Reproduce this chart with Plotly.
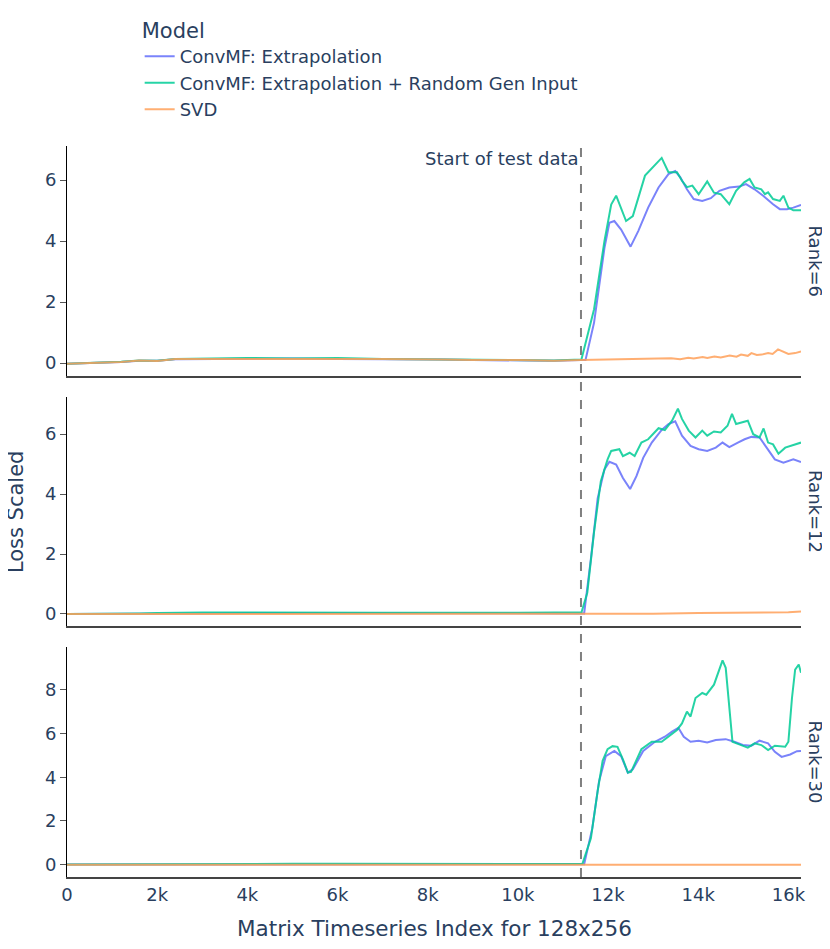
import plotly.graph_objects as go

# training-region sample positions (shared by all panels)
x_train = [0, 600, 1200, 1600, 2000, 2400, 3000, 4000, 5000, 6000, 7000, 8300, 9000, 10000, 10800, 11400]

# ---- Rank=6 ----
r6_blue_train = [-0.02, 0.0, 0.04, 0.08, 0.08, 0.13, 0.14, 0.15, 0.15, 0.14, 0.14, 0.12, 0.1, 0.09, 0.08, 0.1]
r6_green_train = [-0.02, 0.01, 0.05, 0.09, 0.08, 0.14, 0.15, 0.17, 0.15, 0.17, 0.14, 0.12, 0.12, 0.1, 0.09, 0.12]
r6_svd_train = [-0.02, 0.0, 0.04, 0.09, 0.07, 0.14, 0.14, 0.15, 0.14, 0.14, 0.14, 0.12, 0.1, 0.1, 0.08, 0.1]

r6_blue_x = [11500, 11690, 11920, 12030, 12140, 12290, 12500, 12670, 12890, 13120, 13340, 13490, 13600,
             13750, 13900, 14090, 14280, 14470, 14690, 14910, 15060, 15250, 15440, 15660, 15810, 15970, 16110, 16280]
r6_blue_y = [0.1, 1.33, 3.77, 4.6, 4.66, 4.38, 3.82, 4.33, 5.1, 5.76, 6.2, 6.3, 6.1,
             5.7, 5.38, 5.32, 5.41, 5.65, 5.76, 5.79, 5.87, 5.7, 5.49, 5.21, 5.05, 5.05, 5.1, 5.19]

r6_green_x = [11410, 11690, 11920, 12070, 12180, 12400, 12550, 12820, 13000, 13190, 13340, 13530, 13640,
              13750, 13870, 14010, 14200, 14350, 14500, 14690, 14840, 15020, 15140, 15250, 15400, 15480,
              15550, 15660, 15810, 15890, 16000, 16110, 16280]
r6_green_y = [0.12, 1.77, 4.0, 5.2, 5.49, 4.66, 4.82, 6.15, 6.43, 6.73, 6.26, 6.26, 5.98,
              5.77, 5.82, 5.54, 5.96, 5.59, 5.54, 5.21, 5.65, 5.93, 6.04, 5.76, 5.7, 5.54,
              5.6, 5.38, 5.32, 5.49, 5.1, 5.01, 5.01]

r6_svd_x = [11800, 12000, 12500, 13000, 13200, 13400, 13600, 13780, 13900, 14100, 14200, 14360, 14500,
            14700, 14850, 14950, 15100, 15180, 15300, 15410, 15550, 15650, 15770, 15880, 16000, 16150, 16280]
r6_svd_y = [0.11, 0.13, 0.12, 0.14, 0.14, 0.16, 0.13, 0.18, 0.15, 0.2, 0.17, 0.22, 0.19,
            0.25, 0.21, 0.28, 0.24, 0.33, 0.27, 0.28, 0.33, 0.3, 0.45, 0.38, 0.3, 0.33, 0.38]

# ---- Rank=12 ----
r12_blue_train = [0.0, 0.0, 0.0, 0.01, 0.02, 0.02, 0.02, 0.03, 0.03, 0.03, 0.03, 0.02, 0.02, 0.02, 0.02, 0.02]
r12_green_train = [0.0, 0.0, 0.01, 0.02, 0.03, 0.04, 0.05, 0.05, 0.04, 0.05, 0.04, 0.04, 0.05, 0.04, 0.05, 0.05]
r12_svd_train = [0.0, 0.0, 0.0, 0.0, 0.0, 0.0, 0.0, 0.01, 0.01, 0.01, 0.01, 0.01, 0.0, 0.0, 0.0, 0.0]

r12_blue_x = [11470, 11620, 11770, 11920, 12030, 12180, 12330, 12490, 12630, 12780, 12970, 13190, 13340,
              13490, 13640, 13830, 14010, 14200, 14390, 14540, 14690, 14880, 15030, 15180, 15360, 15510,
              15700, 15890, 16110, 16280]
r12_blue_y = [0.02, 1.84, 3.86, 4.82, 5.08, 4.99, 4.54, 4.17, 4.6, 5.21, 5.72, 6.14, 6.34,
              6.43, 5.95, 5.61, 5.5, 5.44, 5.55, 5.72, 5.57, 5.72, 5.83, 5.91, 5.89, 5.57,
              5.16, 5.05, 5.16, 5.07]

r12_green_x = [11410, 11540, 11690, 11840, 11990, 12070, 12250, 12330, 12480, 12590, 12740, 12890, 13120,
               13260, 13420, 13550, 13640, 13790, 13940, 14090, 14200, 14350, 14500, 14650, 14750, 14840,
               14990, 15100, 15220, 15360, 15450, 15550, 15660, 15780, 15930, 16110, 16280]
r12_green_y = [0.05, 0.71, 2.74, 4.43, 5.16, 5.44, 5.5, 5.27, 5.38, 5.27, 5.72, 5.83, 6.2,
               6.14, 6.45, 6.85, 6.51, 6.12, 5.89, 6.12, 5.95, 6.09, 6.06, 6.28, 6.68, 6.34,
               6.4, 6.45, 6.0, 5.89, 6.19, 5.72, 5.66, 5.35, 5.55, 5.64, 5.72]

r12_svd_x = [12000, 13000, 14000, 15000, 16000, 16280]
r12_svd_y = [0.0, 0.01, 0.03, 0.04, 0.06, 0.08]

# ---- Rank=30 ----
r30_blue_train = [0.01, 0.01, 0.01, 0.01, 0.02, 0.02, 0.02, 0.02, 0.02, 0.02, 0.02, 0.02, 0.02, 0.02, 0.02, 0.02]
r30_green_train = [0.01, 0.01, 0.02, 0.02, 0.03, 0.03, 0.04, 0.03, 0.04, 0.05, 0.04, 0.05, 0.03, 0.04, 0.03, 0.03]
r30_svd_train = [0.0, 0.0, 0.0, 0.0, 0.0, 0.0, 0.0, 0.0, 0.0, 0.0, 0.0, 0.0, 0.0, 0.0, 0.0, 0.0]

r30_blue_x = [11470, 11650, 11800, 11950, 12140, 12290, 12440, 12550, 12780, 13040, 13260, 13420, 13560,
              13680, 13830, 14010, 14200, 14390, 14610, 14800, 14990, 15180, 15360, 15550, 15700, 15850,
              16040, 16190, 16280]
r30_blue_y = [0.02, 1.66, 3.81, 4.96, 5.2, 4.96, 4.21, 4.36, 5.2, 5.62, 5.85, 6.08, 6.26,
              5.85, 5.62, 5.67, 5.59, 5.7, 5.74, 5.62, 5.47, 5.44, 5.67, 5.55, 5.16, 4.93,
              5.04, 5.19, 5.2]

r30_green_x = [11430, 11620, 11770, 11880, 11990, 12100, 12210, 12330, 12440, 12510, 12740, 12970, 13190,
               13340, 13530, 13640, 13750, 13830, 13940, 14090, 14180, 14350, 14470, 14540, 14610, 14690,
               14760, 14910, 15100, 15250, 15400, 15550, 15700, 15930, 16000, 16080, 16150, 16230, 16280]
r30_green_y = [0.03, 1.21, 3.36, 4.75, 5.28, 5.42, 5.39, 4.82, 4.21, 4.24, 5.28, 5.62, 5.62,
               5.85, 6.16, 6.46, 7.0, 6.77, 7.62, 7.85, 7.77, 8.23, 9.0, 9.34, 9.0, 7.15,
               5.62, 5.5, 5.35, 5.55, 5.47, 5.24, 5.44, 5.39, 5.62, 7.62, 8.92, 9.15, 8.77]

r30_svd_x = [12000, 13000, 14000, 15000, 16000, 16280]
r30_svd_y = [0.0, 0.0, 0.0, 0.0, 0.0, 0.0]

ranks = ["Rank=6", "Rank=12", "Rank=30"]
models = ["ConvMF: Extrapolation", "ConvMF: Extrapolation + Random Gen Input", "SVD"]
colors = ["#636efa", "#00cc96", "#FFA15A"]
test_start = 11400

panels = [
    [(r6_blue_train, r6_blue_x, r6_blue_y), (r6_green_train, r6_green_x, r6_green_y), (r6_svd_train, r6_svd_x, r6_svd_y)],
    [(r12_blue_train, r12_blue_x, r12_blue_y), (r12_green_train, r12_green_x, r12_green_y), (r12_svd_train, r12_svd_x, r12_svd_y)],
    [(r30_blue_train, r30_blue_x, r30_blue_y), (r30_green_train, r30_green_x, r30_green_y), (r30_svd_train, r30_svd_x, r30_svd_y)],
]
y_ranges = [[-0.42, 7.12], [-0.40, 7.24], [-0.56, 9.95]]
domains = [[0.6854, 1.0], [0.3434, 0.6566], [0.0, 0.3146]]

fig = go.Figure()
for i, panel in enumerate(panels):
    for j, (train, xs, ys) in enumerate(panel):
        fig.add_trace(go.Scatter(
            x=x_train + xs, y=train + ys, mode="lines", name=models[j],
            legendgroup=models[j], showlegend=(i == 0),
            line=dict(color=colors[j], width=2), opacity=0.85,
            xaxis="x" if i == 0 else "x%d" % (i + 1),
            yaxis="y" if i == 0 else "y%d" % (i + 1),
        ))

font = "DejaVu Sans"
fcol = "#2a3f5f"
layout = dict(
    width=830, height=949,
    template="plotly_white",
    plot_bgcolor="white", paper_bgcolor="white",
    font=dict(family=font, size=18, color=fcol),
    margin=dict(l=59, r=37, t=138, b=80, autoexpand=False),
    legend=dict(title=dict(text="Model", font=dict(size=21)), font=dict(size=18),
                x=0.099, xanchor="left", yref="container", y=0.997, yanchor="top", tracegroupgap=0),
)
for i in range(3):
    xa = "xaxis" if i == 0 else "xaxis%d" % (i + 1)
    ya = "yaxis" if i == 0 else "yaxis%d" % (i + 1)
    layout[xa] = dict(range=[0, 16280], domain=[0, 1], anchor="y" if i == 0 else "y%d" % (i + 1),
                      matches=None if i == 0 else "x", showgrid=False, zeroline=False,
                      showline=True, linecolor="#444", linewidth=2, ticks="",
                      showticklabels=(i == 2), tickfont=dict(size=18))
    layout[ya] = dict(range=y_ranges[i], domain=domains[i], anchor="x" if i == 0 else "x%d" % (i + 1),
                      showgrid=False, zeroline=False, showline=True, linecolor="black", linewidth=1,
                      ticks="outside", ticklen=6, tickcolor="#555", dtick=2, tickfont=dict(size=18))
fig.update_layout(**layout)

fig.add_shape(type="line", x0=test_start, x1=test_start, xref="x", y0=0, y1=1, yref="paper",
              line=dict(color="gray", width=2, dash="dash"))
fig.add_annotation(x=test_start, xref="x", y=1, yref="paper", text="Start of test data",
                   showarrow=False, xanchor="right", yanchor="top", xshift=0, font=dict(size=18))

for i, r in enumerate(ranks):
    fig.add_annotation(x=1, xref="paper", y=sum(domains[i]) / 2, yref="paper", text=r,
                       showarrow=False, textangle=90, xanchor="left", yanchor="middle",
                       xshift=2, font=dict(size=18))

fig.add_annotation(x=-0.07, xref="paper", y=0.5, yref="paper", text="Loss Scaled", showarrow=False,
                   textangle=-90, xanchor="center", yanchor="middle", font=dict(size=21))
fig.add_annotation(x=0.5, xref="paper", y=-0.07, yref="paper", text="Matrix Timeseries Index for 128x256",
                   showarrow=False, xanchor="center", yanchor="middle", font=dict(size=21.5))

fig.write_html("out.html")
